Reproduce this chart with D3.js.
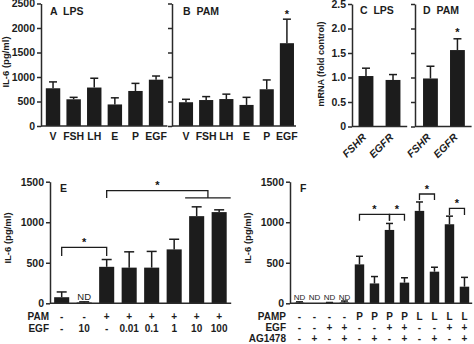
<!DOCTYPE html>
<html>
<head>
<meta charset="utf-8">
<script src="https://cdn.jsdelivr.net/npm/d3@7"></script>
<style>
  body { margin: 0; background: #fff; }
  svg text { font-family: "Liberation Sans", Arial, sans-serif; fill: #1c1c1c; }
  svg text.star { font-weight: bold; fill: #111; }
  .tick line, .domain { stroke: #2a2a2a; stroke-width: 1.5; }
</style>
</head>
<body>
<svg id="chart" width="474" height="344"></svg>
<script>
/*global d3*/

// panels A & B : IL-6 after LPS / PAM
var catsAB = ["V", "FSH", "LH", "E", "P", "EGF"];
var lpsMean = [770, 545, 785, 440, 715, 945];
var lpsSem = [130, 40, 190, 135, 155, 75];
var pamMean = [485, 530, 550, 430, 750, 1690];
var pamSem = [60, 70, 100, 155, 190, 490];
var ticksAB = [0, 500, 1000, 1500, 2000, 2500];

// panels C & D : mRNA fold control
var genes = ["FSHR", "EGFR"];
var mrnaLpsMean = [1.03, 0.95];
var mrnaLpsSem = [0.16, 0.11];
var mrnaPamMean = [0.98, 1.56];
var mrnaPamSem = [0.25, 0.23];
var ticksCD = [0, 0.5, 1, 1.5, 2, 2.5];

// panel E : PAM + EGF dose
var ePam = ["-", "-", "+", "+", "+", "+", "+", "+"];
var eEgf = ["-", "10", "-", "0.01", "0.1", "1", "10", "100"];
var eMean = [75, 10, 450, 440, 440, 665, 1075, 1125];
var eSem = [65, 8, 90, 195, 200, 125, 115, 28];
var eND = [1];
var eBrackets = [{a: 0, b: 2, y: 690, leg: 585}, {a: 2, b: 6.5, y: 1390, leg: 1300, sub: [6, 7]}];

// panel F : PAMP / EGF / AG1478
var fPamp = ["-", "-", "-", "-", "P", "P", "P", "P", "L", "L", "L", "L"];
var fEgf = ["-", "-", "+", "+", "-", "-", "+", "+", "-", "-", "+", "+"];
var fAg = ["-", "+", "-", "+", "-", "+", "-", "+", "-", "+", "-", "+"];
var fMean = [8, 0, 5, 10, 480, 245, 905, 255, 1140, 390, 975, 205];
var fSem = [10, 0, 5, 18, 100, 85, 80, 60, 110, 55, 100, 115];
var fND = [0, 1, 2, 3];
var fBrackets = [{a: 4, b: 6, y: 1097, leg: 1018}, {a: 6, b: 7, y: 1097, leg: 1018},
                 {a: 8, b: 9, y: 1348, leg: 1274}, {a: 10, b: 11, y: 1171, leg: 1089}];
var ticksEF = [0, 500, 1000, 1500];

var svg = d3.select("#chart");
var ink = "#1c1c1c";

function panel(c) {
  var g = svg.append("g");
  var x = d3.scaleBand().domain(d3.range(c.mean.length))
    .range(c.xr).paddingInner(c.pi).paddingOuter(c.po);
  var y = d3.scaleLinear().domain(c.yd).range(c.yr);

  g.selectAll("rect.bar").data(c.mean).join("rect")
    .attr("class", "bar")
    .attr("x", (d, i) => x(i))
    .attr("y", d => y(d))
    .attr("width", x.bandwidth())
    .attr("height", d => y(0) - y(d))
    .attr("fill", ink);

  // upper error bars only
  c.sem.forEach(function(s, i) {
    if (!s) return;
    var cx = x(i) + x.bandwidth() / 2, top = y(c.mean[i] + s);
    g.append("line").attr("x1", cx).attr("x2", cx).attr("y1", y(c.mean[i])).attr("y2", top)
      .attr("stroke", ink).attr("stroke-width", 1.5);
    g.append("line").attr("x1", cx - c.cap).attr("x2", cx + c.cap).attr("y1", top).attr("y2", top)
      .attr("stroke", ink).attr("stroke-width", 1.5);
  });

  var ax = d3.axisLeft(y).tickValues(c.ticks).tickSize(4).tickSizeOuter(0).tickPadding(2);
  ax.tickFormat(c.labels ? (c.fmt || d3.format("d")) : "");
  var ag = g.append("g").attr("transform", `translate(${c.ax},0)`).call(ax);
  ag.selectAll("text").style("font-size", "10.5px").style("font-weight", "bold").style("fill", ink);

  g.append("line").attr("x1", c.ax).attr("x2", c.xr[1]).attr("y1", y(0)).attr("y2", y(0))
    .attr("stroke", "#2a2a2a").attr("stroke-width", 1.5);

  g.append("text").attr("x", c.tx).attr("y", c.ty)
    .style("font-size", "10.5px").style("font-weight", "bold").style("white-space", "pre")
    .text(c.title);
  return {g: g, x: x, y: y, mid: i => x(i) + x.bandwidth() / 2};
}

function ylabel(txt, x, y, size) {
  svg.append("text").attr("transform", `translate(${x},${y}) rotate(-90)`)
    .attr("text-anchor", "middle").style("font-size", size + "px").style("font-weight", "bold")
    .text(txt);
}

function star(p, x, y) {
  p.g.append("text").attr("class", "star").attr("x", x).attr("y", y).attr("text-anchor", "middle")
    .style("font-size", "11px").text("*");
}

function brackets(p, list) {
  list.forEach(function(b) {
    var xa = p.mid(b.a);
    var xb = b.sub ? (p.mid(b.sub[0]) + p.mid(b.sub[1])) / 2 : p.mid(b.b);
    var yb = p.y(b.y), yl = p.y(b.leg);
    p.g.append("path")
      .attr("d", `M${xa},${yl}V${yb}H${xb}V${yl}`)
      .attr("fill", "none").attr("stroke", ink).attr("stroke-width", 1.3);
    if (b.sub) {
      p.g.append("line")
        .attr("x1", p.x(b.sub[0]) - 4).attr("x2", p.x(b.sub[1]) + p.x.bandwidth() + 4)
        .attr("y1", yl).attr("y2", yl).attr("stroke", ink).attr("stroke-width", 1.3);
    }
    star(p, (xa + xb) / 2, yb - 1.5);
  });
}

// ---- A
var pA = panel({mean: lpsMean, sem: lpsSem, xr: [41.7, 167.4], pi: 0.3, po: 0.2,
  yd: [0, 2500], yr: [126, 3.5], ticks: ticksAB, labels: true, ax: 41, cap: 4,
  tx: 50, ty: 15, title: "A  LPS"});
pA.g.selectAll("text.cat").data(catsAB).join("text").attr("class", "cat")
  .attr("x", (d, i) => pA.mid(i)).attr("y", 140).attr("text-anchor", "middle")
  .style("font-size", "10.5px").style("font-weight", "bold").text(d => d);
ylabel("IL-6 (pg/ml)", 9, 62, 9.5);

// ---- B
var pB = panel({mean: pamMean, sem: pamSem, xr: [176.9, 296], pi: 0.3, po: 0.1,
  yd: [0, 2500], yr: [126, 3.5], ticks: ticksAB, labels: false, ax: 172, cap: 4,
  tx: 183, ty: 15, title: "B  PAM"});
pB.g.selectAll("text.cat").data(catsAB).join("text").attr("class", "cat")
  .attr("x", (d, i) => pB.mid(i)).attr("y", 140).attr("text-anchor", "middle")
  .style("font-size", "10.5px").style("font-weight", "bold").text(d => d);
star(pB, pB.mid(5), pB.y(pamMean[5] + pamSem[5]) - 1);

// ---- C
var fmtCD = d => d === 0 ? "0" : d3.format(".1f")(d);
var pC = panel({mean: mrnaLpsMean, sem: mrnaLpsSem, xr: [351.8, 407.2], pi: 0.45, po: 0.25,
  yd: [0, 2.5], yr: [126.5, 4], ticks: ticksCD, labels: true, fmt: fmtCD, ax: 352, cap: 4,
  tx: 360, ty: 14, title: "C  LPS"});
var pD = panel({mean: mrnaPamMean, sem: mrnaPamSem, xr: [416.3, 471.6], pi: 0.45, po: 0.25,
  yd: [0, 2.5], yr: [126.5, 4], ticks: ticksCD, labels: false, ax: 415, cap: 4,
  tx: 423, ty: 14, title: "D  PAM"});
[pC, pD].forEach(function(p) {
  p.g.selectAll("text.gene").data(genes).join("text").attr("class", "gene")
    .attr("transform", (d, i) => `translate(${p.mid(i) + 1},138) rotate(-45)`)
    .attr("text-anchor", "end")
    .style("font-size", "10.5px").style("font-weight", "bold").style("font-style", "italic")
    .text(d => d);
});
star(pD, pD.mid(1), pD.y(mrnaPamMean[1] + mrnaPamSem[1]) - 3);
ylabel("mRNA (fold control)", 324, 64, 9);

// ---- E
var pE = panel({mean: eMean, sem: eSem, xr: [49.65, 231.2], pi: 0.33, po: 0.2,
  yd: [0, 1500], yr: [303.3, 181.7], ticks: ticksEF, labels: true, ax: 50, cap: 5,
  tx: 60, ty: 192, title: "E"});
ylabel("IL-6 (pg/ml)", 11, 238, 9.5);
brackets(pE, eBrackets);
eND.forEach(i => pE.g.append("text").attr("x", pE.mid(i)).attr("y", 299.5)
  .attr("text-anchor", "middle").style("font-size", "9.5px").text("ND"));
[["PAM", ePam, 319.5], ["EGF", eEgf, 332]].forEach(function(r) {
  pE.g.append("text").attr("x", 49).attr("y", r[2]).attr("text-anchor", "end")
    .style("font-size", "10px").style("font-weight", "bold").text(r[0]);
  pE.g.selectAll(null).data(r[1]).join("text")
    .attr("x", (d, i) => pE.mid(i)).attr("y", r[2]).attr("text-anchor", "middle")
    .style("font-size", "10px").style("font-weight", "bold").text(d => d);
});

// ---- F
var pF = panel({mean: fMean, sem: fSem, xr: [291.75, 472.2], pi: 0.37, po: 0.2,
  yd: [0, 1500], yr: [303.3, 181.7], ticks: ticksEF, labels: true, ax: 290, cap: 3.5,
  tx: 300, ty: 192, title: "F"});
ylabel("IL-6 (pg/ml)", 251, 238, 9.5);
brackets(pF, fBrackets);
fND.forEach(i => pF.g.append("text").attr("x", pF.mid(i)).attr("y", 300)
  .attr("text-anchor", "middle").style("font-size", "8px").text("ND"));
[["PAMP", fPamp, 320], ["EGF", fEgf, 331], ["AG1478", fAg, 342]].forEach(function(r) {
  pF.g.append("text").attr("x", 286).attr("y", r[2]).attr("text-anchor", "end")
    .style("font-size", "10px").style("font-weight", "bold").text(r[0]);
  pF.g.selectAll(null).data(r[1]).join("text")
    .attr("x", (d, i) => pF.mid(i)).attr("y", r[2]).attr("text-anchor", "middle")
    .style("font-size", "10px").style("font-weight", "bold").text(d => d);
});
</script>
</body>
</html>
